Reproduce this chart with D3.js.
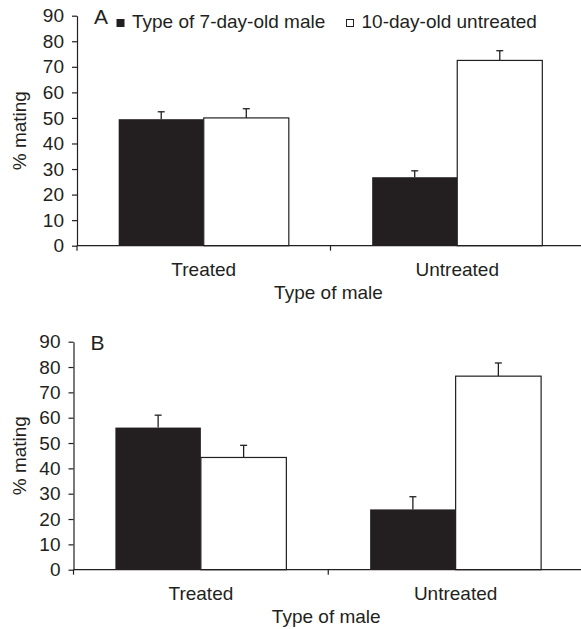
<!DOCTYPE html>
<html>
<head>
<meta charset="utf-8">
<script src="https://cdn.jsdelivr.net/npm/d3@7"></script>
<style>
  html, body { margin: 0; padding: 0; background: #fff; }
  svg { display: block; }
  text { font-family: "Liberation Sans", Arial, Helvetica, sans-serif; fill: #231f20; }
</style>
</head>
<body>
<svg id="chart" width="581" height="629"></svg>
<script>
// ---- data ----
const categories = ["Treated", "Untreated"];
const seriesNames = ["Type of 7-day-old male", "10-day-old untreated"];
const yTicks = [0, 10, 20, 30, 40, 50, 60, 70, 80, 90];
const panelLabels = ["A", "B"];
const xTitle = "Type of male";
const yTitle = "% mating";

// Panel A
const aBlack = [49.5, 26.8];
const aBlackErr = [2.9, 2.5];
const aWhite = [50.0, 72.5];
const aWhiteErr = [3.6, 3.8];
// Panel B
const bBlack = [56.1, 23.8];
const bBlackErr = [4.9, 5.0];
const bWhite = [44.3, 76.4];
const bWhiteErr = [4.8, 5.2];

const ink = "#231f20";
const FS = 19;
const svg = d3.select("#chart");

function drawPanel(cfg) {
  const g = svg.append("g");
  const y = d3.scaleLinear().domain([0, 90]).range([cfg.bottom, cfg.top]);
  const x = d3.scaleBand().domain(categories).range([cfg.left, cfg.right]).padding(0);
  const xs = d3.scaleBand().domain([0, 1]).range([0, x.bandwidth()]).paddingInner(0).paddingOuter(0.49);

  const rows = [];
  categories.forEach((c, i) => {
    rows.push({ c, s: 0, v: cfg.black[i], e: cfg.blackErr[i] });
    rows.push({ c, s: 1, v: cfg.white[i], e: cfg.whiteErr[i] });
  });

  // error bars
  const eb = g.append("g").attr("stroke", ink).attr("stroke-width", 1.3);
  rows.forEach(d => {
    const cx = x(d.c) + xs(d.s) + xs.bandwidth() / 2;
    eb.append("line").attr("x1", cx).attr("x2", cx).attr("y1", y(d.v)).attr("y2", y(d.v + d.e));
    eb.append("line").attr("x1", cx - 3.5).attr("x2", cx + 3.5).attr("y1", y(d.v + d.e)).attr("y2", y(d.v + d.e));
  });

  // bars
  g.append("g").selectAll("rect").data(rows).join("rect")
    .attr("x", d => x(d.c) + xs(d.s))
    .attr("y", d => y(d.v))
    .attr("width", xs.bandwidth())
    .attr("height", d => y(0) - y(d.v))
    .attr("fill", d => d.s === 0 ? ink : "#fff")
    .attr("stroke", ink)
    .attr("stroke-width", d => d.s === 0 ? 0 : 1.2);

  // y axis
  const ya = g.append("g").attr("transform", `translate(${cfg.left},0)`)
    .call(d3.axisLeft(y).tickValues(yTicks).tickSize(5).tickSizeOuter(0).tickPadding(8));
  ya.select(".domain").attr("stroke", ink).attr("stroke-width", 1.2);
  ya.selectAll(".tick line").attr("stroke", ink).attr("stroke-width", 1.2);
  ya.selectAll(".tick text").attr("font-size", FS).attr("fill", ink)
    .attr("font-family", '"Liberation Sans", Arial, sans-serif');

  // x axis line and boundary ticks
  const xa = g.append("g").attr("stroke", ink).attr("stroke-width", 1.2);
  xa.append("line").attr("x1", cfg.left).attr("x2", cfg.right).attr("y1", y(0)).attr("y2", y(0));
  const bounds = [cfg.left].concat(categories.slice(1).map(c => x(c))).concat([cfg.right]);
  bounds.forEach(b => {
    xa.append("line").attr("x1", b).attr("x2", b).attr("y1", y(0)).attr("y2", y(0) + 5);
  });

  // category labels
  g.selectAll("text.cat").data(categories).join("text").attr("class", "cat")
    .attr("x", c => x(c) + x.bandwidth() / 2)
    .attr("y", y(0) + 30)
    .attr("text-anchor", "middle").attr("font-size", FS).text(c => c);

  // x title
  g.append("text").attr("x", (cfg.left + cfg.right) / 2 - 2).attr("y", y(0) + 53)
    .attr("text-anchor", "middle").attr("font-size", FS).text(xTitle);

  // y title
  g.append("text")
    .attr("transform", `translate(26,${(cfg.top + cfg.bottom) / 2}) rotate(-90)`)
    .attr("text-anchor", "middle").attr("font-size", FS).text(yTitle);

  // panel label
  g.append("text").attr("x", cfg.left + 17).attr("y", cfg.top + 8)
    .attr("font-size", 21).text(cfg.label);

  // legend
  if (cfg.legend) {
    const lg = g.append("g");
    const items = [
      { name: seriesNames[0], x: 117, fill: ink },
      { name: seriesNames[1], x: 346.5, fill: "#fff" }
    ];
    items.forEach(it => {
      lg.append("rect").attr("x", it.x).attr("y", 19.5).attr("width", 7).attr("height", 7)
        .attr("fill", it.fill).attr("stroke", ink).attr("stroke-width", 1);
      lg.append("text").attr("x", it.x + 15).attr("y", 28).attr("font-size", FS).text(it.name);
    });
  }
}

drawPanel({ top: 15.7, bottom: 245.7, left: 77, right: 584, label: panelLabels[0],
  black: aBlack, blackErr: aBlackErr, white: aWhite, whiteErr: aWhiteErr, legend: true });
drawPanel({ top: 341.7, bottom: 569.7, left: 73.5, right: 583, label: panelLabels[1],
  black: bBlack, blackErr: bBlackErr, white: bWhite, whiteErr: bWhiteErr, legend: false });
</script>
</body>
</html>
